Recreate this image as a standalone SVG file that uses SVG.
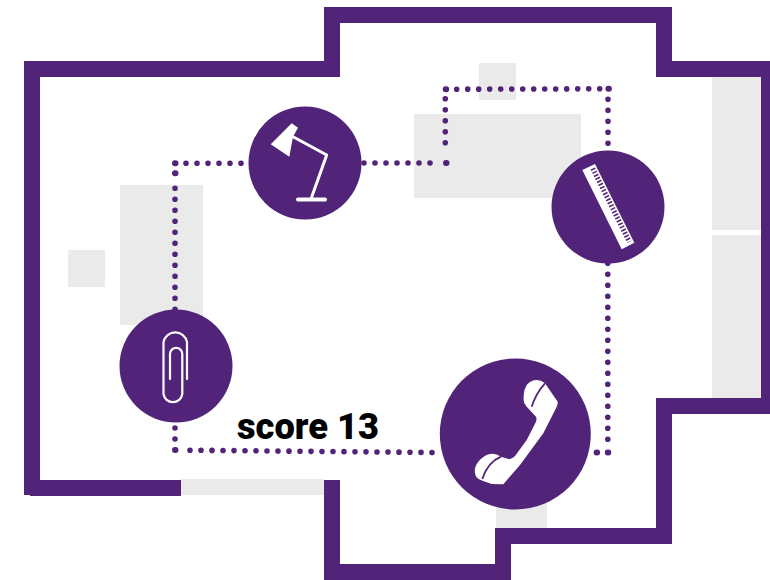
<svg xmlns="http://www.w3.org/2000/svg" width="770" height="580" viewBox="0 0 770 580">
<style>
.g{fill:#eaeaea}
.c{fill:#51247a}
.w{fill:#fff}
.wl{fill:none;stroke:#fff;stroke-linecap:round;stroke-linejoin:round}
.d{fill:none;stroke:#51247a;stroke-width:5.6;stroke-linecap:round;stroke-dasharray:0 11}
.p{fill:none;stroke:#51247a;stroke-width:6;stroke-linecap:round}
.wall{fill:none;stroke:#51247a;stroke-width:16}
</style>
<rect width="770" height="580" fill="#fff"/>
<g id="floorplan">
<rect class="g" x="712" y="77" width="49" height="153"/>
<rect class="g" x="712" y="235" width="49" height="163"/>
<rect class="g" x="414" y="114" width="167" height="84"/>
<rect class="g" x="479" y="63" width="37" height="37"/>
<rect class="g" x="120" y="185" width="83" height="140"/>
<rect class="g" x="68" y="250" width="37" height="37"/>
<rect class="g" x="181" y="479" width="143" height="16"/>
<rect class="g" x="496" y="500" width="51" height="28"/>
<path class="wall" d="M32 495V69H332V15H664V69H769V406H664V536H503V572H332V480"/>
<path class="wall" d="M30 488H181"/>
</g>
<g id="connectors">
<path class="d" d="M186 163.300H242"/>
<path class="d" d="M175 188.300V311"/>
<path class="d" d="M364 163H431"/>
<path class="d" d="M445.300 98.700V153"/>
<path class="d" d="M456.700 89.200L602 88.800"/>
<path class="d" d="M608 99.300V144"/>
<path class="d" d="M607.800 263.300V440"/>
<path class="d" d="M175 428V440"/>
<path class="d" d="M190 450.200L433.800 452.500"/>
<path class="p" d="M175 163.300h.5M175 173.300h.5M446 163h.5M445.700 89.300h.5M608.400 88.700h.5M607.800 452.500h.5M596.600 452.500h.5M175 450h.5"/>
</g>
<g id="lamp">
<circle class="c" cx="305" cy="163" r="56.5"/>
<path class="w" d="M270.700 144.300L291.700 123.300L298 127.700L293 136.700L289.300 156.700Z"/>
<path class="wl" stroke-width="3" d="M293 136.700L326.700 155L311.700 197"/>
<rect class="w" x="296" y="197.500" width="31" height="4" rx="2"/>
</g>
<g id="ruler">
<circle class="c" cx="608" cy="207" r="56.5"/>
<path class="w" d="M582.300 170L595 164L634.300 242.700L621.700 249.300Z"/>
<path fill="none" stroke="#51247a" stroke-width="5" stroke-dasharray="1.6 1.8" d="M592.800 168.500L629.400 241.800"/>
</g>
<g id="paperclip">
<circle class="c" cx="176" cy="366" r="56.5"/>
<path class="wl" stroke-width="2.2" d="M187 379V342A12 12 0 0 0 163.500 342V394A9.500 9.500 0 0 0 182.300 394V354A6 6 0 0 0 170 354V379"/>
</g>
<g id="phone">
<circle class="c" cx="515.300" cy="434" r="75.500"/>
<path class="w" d="M536.700 380Q541 380 545 383.300L557.700 401.700Q558 405 556 408.300L543.300 433.300L520 465L503.300 484.300L491.700 484L482.300 480.700Q475 478 475 473.300Q474 467 478.300 461.700Q484 455 490 454Q496 453 501 456.700L509.300 459.300Q512 459 515 456L526.700 440L536 421.700Q537 419 536 416.700L526.700 406.700Q523 403 523.700 398.300Q523 391 526.700 385Q531 380 536.700 380Z"/>
<path fill="none" stroke="#51247a" stroke-width="1.800" d="M545 383.300Q536 393 531.700 406.700"/>
<path fill="none" stroke="#51247a" stroke-width="1.800" d="M501 456.700Q488 462 482.300 479"/>
</g>
<text x="237" y="439" font-family="Roboto,sans-serif" font-weight="900" font-size="36.500" textLength="142" lengthAdjust="spacingAndGlyphs" fill="#000">score 13</text>
</svg>
